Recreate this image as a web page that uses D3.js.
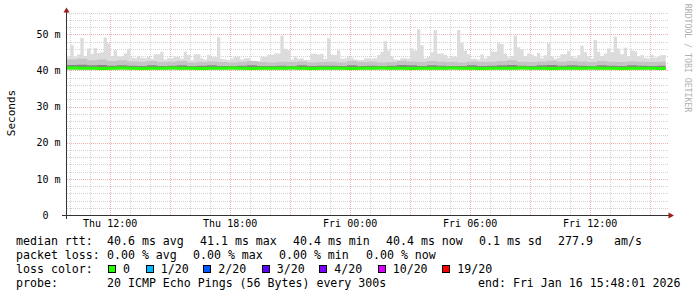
<!DOCTYPE html>
<html>
<head>
<meta charset="utf-8">
<script src="https://cdnjs.cloudflare.com/ajax/libs/d3/7.8.5/d3.min.js"></script>
<style>
  body { margin: 0; background: #fff; }
  svg { display: block; font-family: "DejaVu Sans Mono", monospace; }
  .grid line { shape-rendering: crispEdges; stroke-dasharray: 1,1; }
</style>
</head>
<body>
<div id="chart"></div>
<script>
// highest ping per 10 minute column (ms)
var maxPing = [
  43.6,47.0,43.8,44.4,49.0,44.0,46.1,44.6,46.2,44.8,
  45.0,49.1,47.5,44.0,45.6,43.7,43.9,44.7,46.0,43.6,
  43.4,43.9,43.5,43.4,43.8,43.2,44.5,44.5,45.2,43.0,
  43.4,43.4,43.8,43.8,43.2,45.2,44.3,42.8,44.5,44.5,
  43.4,43.0,44.3,43.7,43.7,49.2,43.2,43.0,42.8,43.3,
  43.8,43.8,43.0,43.4,43.4,42.7,42.6,42.6,43.8,43.8,
  44.3,44.3,44.7,44.7,49.6,46.0,45.6,43.0,43.8,43.2,
  43.4,42.9,42.9,44.6,44.6,44.4,44.6,43.2,48.9,44.3,
  44.3,45.6,43.2,43.3,43.8,43.5,43.0,42.9,42.9,43.4,
  43.4,43.2,43.4,44.3,45.2,48.1,45.5,43.8,43.0,42.9,
  43.4,43.4,43.2,46.1,45.5,51.4,47.0,43.4,43.8,45.0,
  51.2,44.7,44.7,44.3,43.5,43.8,43.8,51.2,47.6,45.5,
  44.5,43.2,43.2,43.0,44.5,43.3,44.0,45.3,45.2,47.5,
  47.3,44.7,43.6,44.0,49.6,46.4,45.8,44.0,44.7,44.5,
  43.8,44.8,43.4,44.2,47.5,43.8,43.2,43.5,44.5,44.5,
  45.3,44.0,43.5,44.2,46.8,45.0,43.8,43.3,48.4,45.2,
  44.0,44.7,46.1,45.0,49.3,46.1,44.5,46.3,44.0,45.5,
  45.3,43.8,44.3,43.5,43.3,44.3,43.5,43.8,44.3,44.3
];
// 30 minute columns
var upperPing = [
  43.0,43.2,42.8,43.0,42.6,42.8,42.5,42.4,42.6,42.3,
  42.4,42.6,42.2,42.3,42.5,42.3,42.2,42.4,42.6,42.3,
  42.2,42.4,42.3,42.5,42.2,42.3,42.4,42.2,42.6,42.3,
  42.4,42.2,42.3,42.7,42.5,42.3,42.6,42.4,42.3,42.2,
  42.5,42.3,42.4,42.6,42.8,42.4,42.3,42.5,42.7,42.4,
  42.6,42.5,42.3,42.6,42.4,42.3,42.5,42.4,42.3,42.4
];
var innerPing = [
  41.5,41.6,41.4,41.5,41.3,41.4,41.3,41.2,41.4,41.2,
  41.3,41.4,41.2,41.3,41.4,41.2,41.2,41.3,41.4,41.2,
  41.2,41.3,41.2,41.4,41.2,41.3,41.3,41.2,41.4,41.2,
  41.3,41.2,41.3,41.5,41.4,41.2,41.4,41.3,41.2,41.2,
  41.4,41.2,41.3,41.4,41.5,41.3,41.2,41.4,41.5,41.3,
  41.4,41.3,41.2,41.4,41.3,41.2,41.4,41.3,41.2,41.3
];
var medianRtt = [
  40.7,40.6,40.6,40.5,40.6,40.7,40.6,40.5,40.6,40.6,
  40.7,40.6,40.6,40.5,40.6,40.6,40.7,40.6,40.5,40.6,
  40.6,40.6,40.7,40.6,40.5,40.6,40.6,40.6,40.5,40.6,
  40.6,40.7,40.6,40.6,40.5,40.6,40.6,40.6,40.7,40.6,
  40.6,40.5,40.6,40.6,40.6,40.7,40.6,40.6,40.5,40.6,
  40.6,40.6,40.7,40.6,40.6,40.5,40.6,40.6,40.6,40.5
];
var minPing = 40.3;

var yTicks = [0, 10, 20, 30, 40, 50];
var lossLabels = ["0", "1/20", "2/20", "3/20", "4/20", "10/20", "19/20"];
var lossColors = ["#26ff00", "#00b8ff", "#0059ff", "#5e00ff", "#7e00ff", "#dd00ff", "#ff0000"];
var rttStats = ["40.6 ms avg", "41.1 ms max", "40.4 ms min", "40.4 ms now", "0.1 ms sd", "277.9", "am/s"];
var lossStats = ["0.00 % avg", "0.00 % max", "0.00 % min", "0.00 % now"];
var probeText = "20 ICMP Echo Pings (56 Bytes) every 300s";
var endText = "end: Fri Jan 16 15:48:01 2026";

var dataStart = new Date(2026, 0, 15, 9, 52);
var dataEnd = new Date(2026, 0, 16, 15, 48, 1);
var viewEnd = new Date(2026, 0, 16, 15, 52);

var W = 697, H = 297;
var X0 = 67, X1 = 667, Y0 = 215, YT = 12.6;

var svg = d3.select("#chart").append("svg")
  .attr("width", W).attr("height", H);
svg.append("rect").attr("width", W).attr("height", H).attr("fill", "#fff");

var x = d3.scaleTime().domain([dataStart, viewEnd]).range([X0, X1]);
var y = d3.scaleLinear().domain([0, 56]).range([Y0, YT]);

// grid
var grid = svg.append("g").attr("class", "grid");
d3.range(2, 57, 2).forEach(function(v) {
  var major = v % 10 === 0;
  grid.append("line")
    .attr("x1", X0).attr("x2", X1 + 2)
    .attr("y1", Math.round(y(v)) + 0.5).attr("y2", Math.round(y(v)) + 0.5)
    .attr("stroke", major ? "#eeb0b0" : "#d2d2d2");
});
x.ticks(d3.timeHour.every(1)).forEach(function(t) {
  var major = t.getHours() % 3 === 0;
  var px = Math.round(x(t)) + 0.5;
  grid.append("line")
    .attr("x1", px).attr("x2", px)
    .attr("y1", Y0).attr("y2", YT)
    .attr("stroke", major ? "#eeb0b0" : "#d2d2d2");
});

function steps(values, minutes) {
  var pts = values.map(function(v, i) {
    return { t: new Date(+dataStart + i * minutes * 60000), v: v };
  }).filter(function(d) { return d.t < dataEnd; });
  pts.push({ t: dataEnd, v: pts[pts.length - 1].v });
  return pts;
}

var band = d3.area().curve(d3.curveStepAfter)
  .x(function(d) { return x(d.t); })
  .y0(y(minPing))
  .y1(function(d) { return y(d.v); });

svg.append("path").datum(steps(maxPing, 10)).attr("d", band).attr("fill", "#dcdcdc");
svg.append("path").datum(steps(upperPing, 30)).attr("d", band).attr("fill", "#c4c4c4");
svg.append("path").datum(steps(innerPing, 30)).attr("d", band).attr("fill", "#858585");

var line = d3.line().curve(d3.curveStepAfter)
  .x(function(d) { return x(d.t); })
  .y(function(d) { return y(d.v); });
svg.append("path").datum(steps(medianRtt, 30)).attr("d", line)
  .attr("fill", "none").attr("stroke", lossColors[0]).attr("stroke-width", 3);

// axes
var axisColor = "#333", arrowColor = "#9c1c1c";
svg.append("line").attr("x1", 66.5).attr("x2", 66.5).attr("y1", 219).attr("y2", 11)
  .attr("stroke", axisColor);
svg.append("line").attr("x1", 62).attr("x2", 669).attr("y1", 215.5).attr("y2", 215.5)
  .attr("stroke", axisColor);
svg.append("path").attr("d", "M63.5,12.5L66.5,7.5L69.5,12.5Z").attr("fill", arrowColor);
svg.append("path").attr("d", "M668.5,212.5L674,215.5L668.5,218.5Z").attr("fill", arrowColor);

var yAxis = svg.append("g")
  .attr("transform", "translate(66.5,0)")
  .call(d3.axisLeft(y).tickValues(yTicks).tickSize(0).tickPadding(6)
    .tickFormat(function(d) { return d === 0 ? "0\u00a0\u00a0" : d + "\u00a0m"; }));
yAxis.select(".domain").remove();
yAxis.selectAll("text").attr("font-size", 10).attr("font-family", "DejaVu Sans Mono").attr("fill", "#000");

var xAxis = svg.append("g")
  .attr("transform", "translate(0," + Y0 + ")")
  .call(d3.axisBottom(x).ticks(d3.timeHour.every(6)).tickSize(0)
    .tickFormat(d3.timeFormat("%a %H:%M")));
xAxis.select(".domain").remove();
xAxis.selectAll("text").attr("dy", null).attr("y", 12)
  .attr("font-size", 10).attr("font-family", "DejaVu Sans Mono").attr("fill", "#000");

svg.append("text")
  .attr("transform", "translate(15,113) rotate(-90)")
  .attr("text-anchor", "middle").attr("font-size", 11).attr("fill", "#000")
  .text("Seconds");

svg.append("text")
  .attr("transform", "translate(685,58) rotate(90)")
  .attr("text-anchor", "middle").attr("font-size", 8.2).attr("fill", "#b0b0b0")
  .text("RRDTOOL / TOBI OETIKER");

// legend
var legend = svg.append("g").attr("font-size", 11.6).attr("fill", "#000")
  .style("white-space", "pre");
function txt(px, py, s) {
  legend.append("text").attr("x", px).attr("y", py).text(s);
}
txt(16, 245, "median rtt:");
[107, 200, 293, 386, 479, 558, 614].forEach(function(px, i) { txt(px, 245, rttStats[i]); });
txt(16, 259, "packet loss:");
[107, 193, 279, 366].forEach(function(px, i) { txt(px, 259, lossStats[i]); });
txt(16, 273, "loss color:");
[108, 145.7, 203.3, 261.7, 319.3, 377.7, 442.3].forEach(function(px, i) {
  legend.append("rect")
    .attr("x", Math.round(px) + 0.5).attr("y", 265.5).attr("width", 7).attr("height", 7)
    .attr("fill", lossColors[i]).attr("stroke", "#000");
  txt(px + 15, 273, lossLabels[i]);
});
txt(16, 287, "probe:");
txt(107, 287, probeText);
txt(478, 287, endText);
</script>
</body>
</html>
